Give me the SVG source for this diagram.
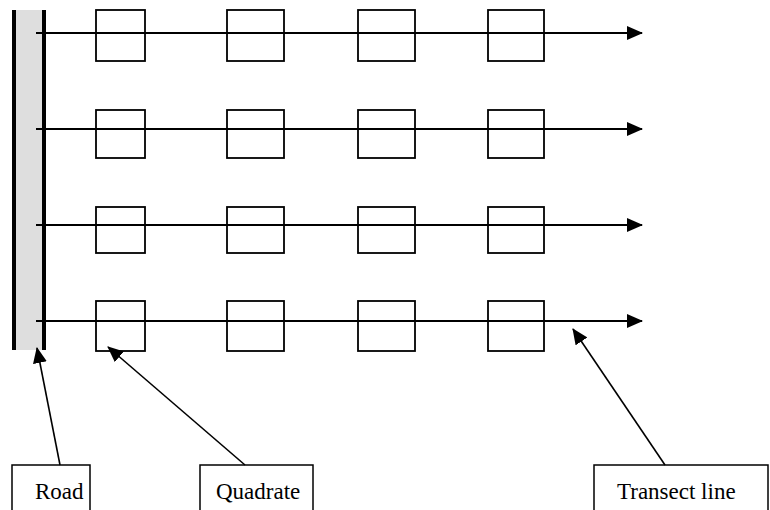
<svg xmlns="http://www.w3.org/2000/svg" width="770" height="510" viewBox="0 0 770 510">
<defs>
<marker id="ah" markerWidth="16" markerHeight="14" refX="15" refY="7" orient="auto" markerUnits="userSpaceOnUse">
<path d="M0,0 L16,7 L0,14 Z" fill="#000"/>
</marker>
<style>
.q{fill:#fff;stroke:#000;stroke-width:1.8}
.t{stroke:#000;stroke-width:2;fill:none}
.lb{fill:#fff;stroke:#000;stroke-width:1.5}
.tx{font-family:"Liberation Serif","Times New Roman",serif;font-size:23px;fill:#000}
.ptr{stroke:#000;stroke-width:1.6;fill:none}
</style>
</defs>
<rect width="770" height="510" fill="#fff"/>
<g id="road">
<rect x="14" y="10" width="30" height="340" fill="#dedede"/>
<rect x="12" y="10" width="4" height="340" fill="#000"/>
<rect x="42" y="10" width="4" height="340" fill="#000"/>
</g>
<g id="quadrates">
<rect class="q" x="96" y="10" width="49" height="51"/>
<rect class="q" x="227" y="10" width="57" height="51"/>
<rect class="q" x="358" y="10" width="57" height="51"/>
<rect class="q" x="488" y="10" width="56" height="51"/>
<rect class="q" x="96" y="110" width="49" height="48"/>
<rect class="q" x="227" y="110" width="57" height="48"/>
<rect class="q" x="358" y="110" width="57" height="48"/>
<rect class="q" x="488" y="110" width="56" height="48"/>
<rect class="q" x="96" y="207" width="49" height="46"/>
<rect class="q" x="227" y="207" width="57" height="46"/>
<rect class="q" x="358" y="207" width="57" height="46"/>
<rect class="q" x="488" y="207" width="56" height="46"/>
<rect class="q" x="96" y="301" width="49" height="50"/>
<rect class="q" x="227" y="301" width="57" height="50"/>
<rect class="q" x="358" y="301" width="57" height="50"/>
<rect class="q" x="488" y="301" width="56" height="50"/>
</g>
<g id="transects">
<line class="t" x1="36" y1="33" x2="642" y2="33" marker-end="url(#ah)"/>
<line class="t" x1="36" y1="129" x2="642" y2="129" marker-end="url(#ah)"/>
<line class="t" x1="36" y1="225" x2="642" y2="225" marker-end="url(#ah)"/>
<line class="t" x1="36" y1="321" x2="642" y2="321" marker-end="url(#ah)"/>
</g>
<g id="label-road">
<rect class="lb" x="12" y="465" width="78" height="60"/>
<text class="tx" x="35" y="499">Road</text>
</g>
<g id="label-quadrate">
<rect class="lb" x="200" y="465" width="113" height="60"/>
<text class="tx" x="216" y="499">Quadrate</text>
</g>
<g id="label-transect">
<rect class="lb" x="594" y="465" width="174" height="60"/>
<text class="tx" x="617" y="499">Transect line</text>
</g>
<g id="connectors">
<line class="ptr" x1="60" y1="465" x2="37" y2="348" marker-end="url(#ah)"/>
<line class="ptr" x1="245" y1="465" x2="108" y2="347" marker-end="url(#ah)"/>
<line class="ptr" x1="665" y1="465" x2="573" y2="329" marker-end="url(#ah)"/>
</g>
</svg>
